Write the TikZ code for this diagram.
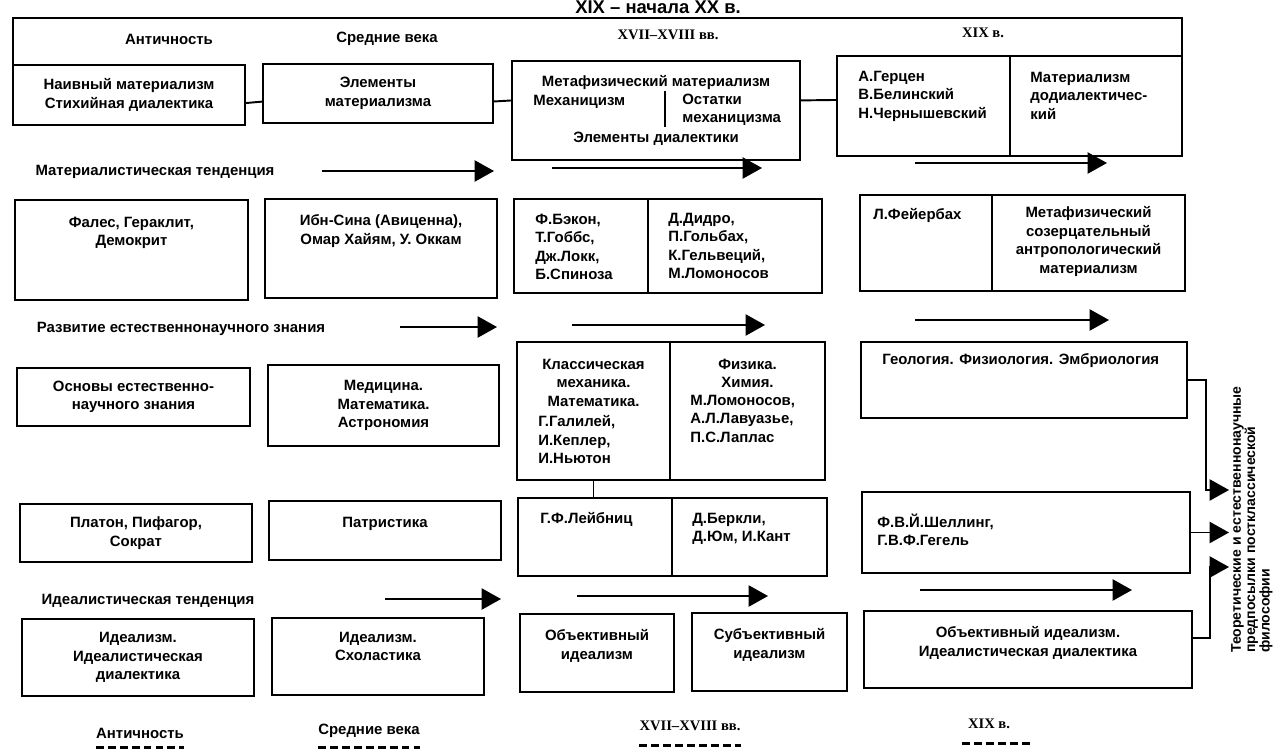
\documentclass[tikz,border=0pt]{standalone}
\usepackage{fontspec}
\setmainfont{Liberation Sans}
\newfontfamily\vekfont{Liberation Serif}
\usetikzlibrary{positioning,arrows.meta}
\newdimen\pxu
\pxu=0.02cm
\newcommand{\tekst}{\bfseries\fontsize{8.5}{10.5}\selectfont}

\tikzset{blok/.style 2 args={draw,line width=1.1pt,anchor=north west,inner sep=0pt,outer sep=0pt,minimum width=#1\pxu,minimum height=#2\pxu,align=center,font=\tekst}}
\tikzset{nadp/.style={inner sep=0pt,align=center,font=\tekst},nadpl/.style={nadp,align=left}}
\tikzset{epoha/.style={inner sep=0pt,font=\tekst},vek/.style={inner sep=0pt,font=\vekfont\bfseries\fontsize{8.3}{10}\selectfont}}
\tikzset{strel/.style={line width=1.1pt,-{Triangle[length=11pt,width=12pt]}},liniya/.style={line width=1.1pt},shtrih/.style={line width=1.8pt,dash pattern=on 4.5pt off 2.3pt}}

\begin{document}
\begin{tikzpicture}[x=0.02cm,y=-0.02cm]
\useasboundingbox (0,0) rectangle (1284,753);

\node[inner sep=0pt,anchor=base,font=\bfseries\fontsize{10.5}{12}\selectfont] (zag) at (658,14) {XIX – начала XX в.};

\node[epoha] (hant) at (169,39) {Античность};
\node[epoha] (hsred) at (387,39) {Средние века};
\node[vek] (hxvii) at (668,35) {XVII–XVIII вв.};
\node[vek] (hxix) at (983,33) {XIX в.};

\node[blok={232}{60}] (naiv) at (13,65) {Наивный материализм\\Стихийная диалектика};
\node[blok={230}{59}] (elem) at (263,64) {Элементы\\материализма};
\node[blok={288}{99}] (meta) at (512,61) {};
\node[nadp,below=14.5\pxu of meta.north] (meta1) {Метафизический материализм};
\node[nadp,below right=33.5\pxu and 21\pxu of meta.north west] (meta2) {Механицизм};
\node[nadpl,below right=32.5\pxu and 170\pxu of meta.north west] (meta3) {Остатки\\механицизма};
\node[nadp,below=70.5\pxu of meta.north] (meta4) {Элементы диалектики};
\node[blok={173}{100}] (gerc) at (837,56) {};
\node[blok={172}{100},right=0pt of gerc] (matd) {};
\node[nadpl,below right=14.5\pxu and 21\pxu of gerc.north west] (gerc1) {А.Герцен\\В.Белинский\\Н.Чернышевский};
\node[nadpl,below right=15.5\pxu and 20\pxu of matd.north west] (matd1) {Материализм\\додиалектичес-\\кий};

\coordinate (verh) at (0,18);
\draw[liniya] (naiv.north west) |- (verh -| matd.north east) -- (matd.north east);
\draw[liniya] (naiv.356) -- (elem.184);
\draw[liniya] (elem.356) -- (meta.176);
\draw[liniya] (meta.4) -- (gerc.176);
\draw[liniya] ([shift={(153,30)}]meta.north west) -- ++(0,36);

\node[epoha] (tmat) at (155,172) {Материалистическая тенденция};
\coordinate (m1a) at (322,171); \coordinate (m1b) at (494,171);
\coordinate (m2a) at (552,168); \coordinate (m2b) at (762,168);
\coordinate (m3a) at (915,163); \coordinate (m3b) at (1107,163);
\draw[strel] (m1a) -- (m1b);
\draw[strel] (m2a) -- (m2b);
\draw[strel] (m3a) -- (m3b);

\node[blok={233}{100}] (fale) at (15,200) {};
\node[nadp,below=16.5\pxu of fale.north] (fale1) {Фалес, Гераклит,\\Демокрит};
\node[blok={232}{99}] (ibn) at (265,199) {};
\node[nadp,below=15.5\pxu of ibn.north] (ibn1) {Ибн-Сина (Авиценна),\\Омар Хайям, У. Оккам};
\node[blok={134}{94}] (bek) at (514,199) {};
\node[blok={174}{94},right=0pt of bek] (did) {};
\node[nadpl,below right=14.5\pxu and 21\pxu of bek.north west] (bek1) {Ф.Бэкон,\\Т.Гоббс,\\Дж.Локк,\\Б.Спиноза};
\node[nadpl,below right=13.5\pxu and 20\pxu of did.north west] (did1) {Д.Дидро,\\П.Гольбах,\\К.Гельвеций,\\М.Ломоносов};
\node[blok={132}{96}] (feb) at (860,195) {};
\node[blok={193}{96},right=0pt of feb] (mets) {};
\node[nadpl,below right=13.5\pxu and 13\pxu of feb.north west] (feb1) {Л.Фейербах};
\node[nadp,below=11.5\pxu of mets.north] (mets1) {Метафизический\\созерцательный\\антропологический\\материализм};

\node[epoha] (tnau) at (181,329) {Развитие естественнонаучного знания};
\coordinate (n1a) at (400,327); \coordinate (n1b) at (497,327);
\coordinate (n2a) at (572,325); \coordinate (n2b) at (765,325);
\coordinate (n3a) at (915,320); \coordinate (n3b) at (1109,320);
\draw[strel] (n1a) -- (n1b);
\draw[strel] (n2a) -- (n2b);
\draw[strel] (n3a) -- (n3b);

\node[blok={233}{58}] (osn) at (17,368) {Основы естественно-\\научного знания};
\node[blok={231}{81}] (med) at (268,365) {Медицина.\\Математика.\\Астрономия};
\node[blok={153}{138}] (kla) at (517,342) {};
\node[blok={155}{138},right=0pt of kla] (fiz) {};
\node[nadp,below=16.5\pxu of kla.north] (kla1) {Классическая\\механика.\\Математика.};
\node[nadpl,below right=73.5\pxu and 21\pxu of kla.north west] (kla2) {Г.Галилей,\\И.Кеплер,\\И.Ньютон};
\node[nadp,below=16.5\pxu of fiz.north] (fiz1) {Физика.\\Химия.};
\node[nadpl,below right=52.5\pxu and 20\pxu of fiz.north west] (fiz2) {М.Ломоносов,\\А.Л.Лавуазье,\\П.С.Лаплас};
\node[blok={326}{76}] (geo) at (861,342) {};
\node[nadpl,below right=11.5\pxu and 21\pxu of geo.north west] (geo1) {Геология. Физиология. Эмбриология};

\node[blok={232}{58}] (pla) at (20,504) {Платон, Пифагор,\\Сократ};
\node[blok={232}{59}] (pat) at (269,501) {};
\node[nadp,below=15.5\pxu of pat.north] (pat1) {Патристика};
\node[blok={154}{78}] (lei) at (518,498) {};
\node[blok={155}{78},right=0pt of lei] (ber) {};
\node[nadpl,below right=14.5\pxu and 22\pxu of lei.north west] (lei1) {Г.Ф.Лейбниц};
\node[nadpl,below right=14.5\pxu and 20\pxu of ber.north west] (ber1) {Д.Беркли,\\Д.Юм, И.Кант};
\draw[liniya] (kla.south) -- (kla.south |- lei.north);
\node[blok={328}{81}] (sch) at (862,492) {};
\node[nadpl,below right=21.5\pxu and 15\pxu of sch.north west] (sch1) {Ф.В.Й.Шеллинг,\\Г.В.Ф.Гегель};

\node[epoha] (tide) at (148,601) {Идеалистическая тенденция};
\coordinate (i1a) at (385,599); \coordinate (i1b) at (501,599);
\coordinate (i2a) at (577,596); \coordinate (i2b) at (768,596);
\coordinate (i3a) at (920,590); \coordinate (i3b) at (1132,590);
\draw[strel] (i1a) -- (i1b);
\draw[strel] (i2a) -- (i2b);
\draw[strel] (i3a) -- (i3b);

\node[blok={232}{77}] (ide) at (22,619) {Идеализм.\\Идеалистическая\\диалектика};
\node[blok={212}{77}] (sho) at (272,618) {};
\node[nadp,below=13.5\pxu of sho.north] (sho1) {Идеализм.\\Схоластика};
\node[blok={154}{78}] (obi) at (520,614) {};
\node[nadp,below=15.5\pxu of obi.north] (obi1) {Объективный\\идеализм};
\node[blok={155}{78}] (sub) at (692,613) {};
\node[nadp,below=15.5\pxu of sub.north] (sub1) {Субъективный\\идеализм};
\node[blok={328}{77}] (oid) at (864,611) {};
\node[nadp,below=15.5\pxu of oid.north] (oid1) {Объективный идеализм.\\Идеалистическая диалектика};

\node[inner sep=1pt,align=left,rotate=90,anchor=north west,font=\bfseries\fontsize{8}{8.2}\selectfont] (teor) at (1229,655) {Теоретические и естественнонаучные\\предпосылки постклассической\\философии};
\coordinate (p1) at (1206,490);
\coordinate (p3) at (1210,567);
\draw[strel] (geo.east) -| (p1) -- (p1 -| teor.north);
\draw[strel] (sch.east) -- (sch.east -| teor.north);
\draw[strel] (oid.4) -| (p3) -- (p3 -| teor.north);

\node[epoha] (bant) at (140,733) {Античность};
\node[epoha] (bsred) at (369,731) {Средние века};
\node[vek] (bxvii) at (690,726) {XVII–XVIII вв.};
\node[vek] (bxix) at (989,724) {XIX в.};
\draw[shtrih] ([yshift=-5pt]bant.south west) -- ([yshift=-5pt]bant.south east);
\draw[shtrih] ([yshift=-5.5pt]bsred.south west) -- ([yshift=-5.5pt]bsred.south east);
\draw[shtrih] ([yshift=-8pt]bxvii.south west) -- ([yshift=-8pt]bxvii.south east);
\draw[shtrih] ([xshift=-3pt,yshift=-8pt]bxix.south west) -- ([xshift=12pt,yshift=-8pt]bxix.south east);
\end{tikzpicture}
\end{document}
